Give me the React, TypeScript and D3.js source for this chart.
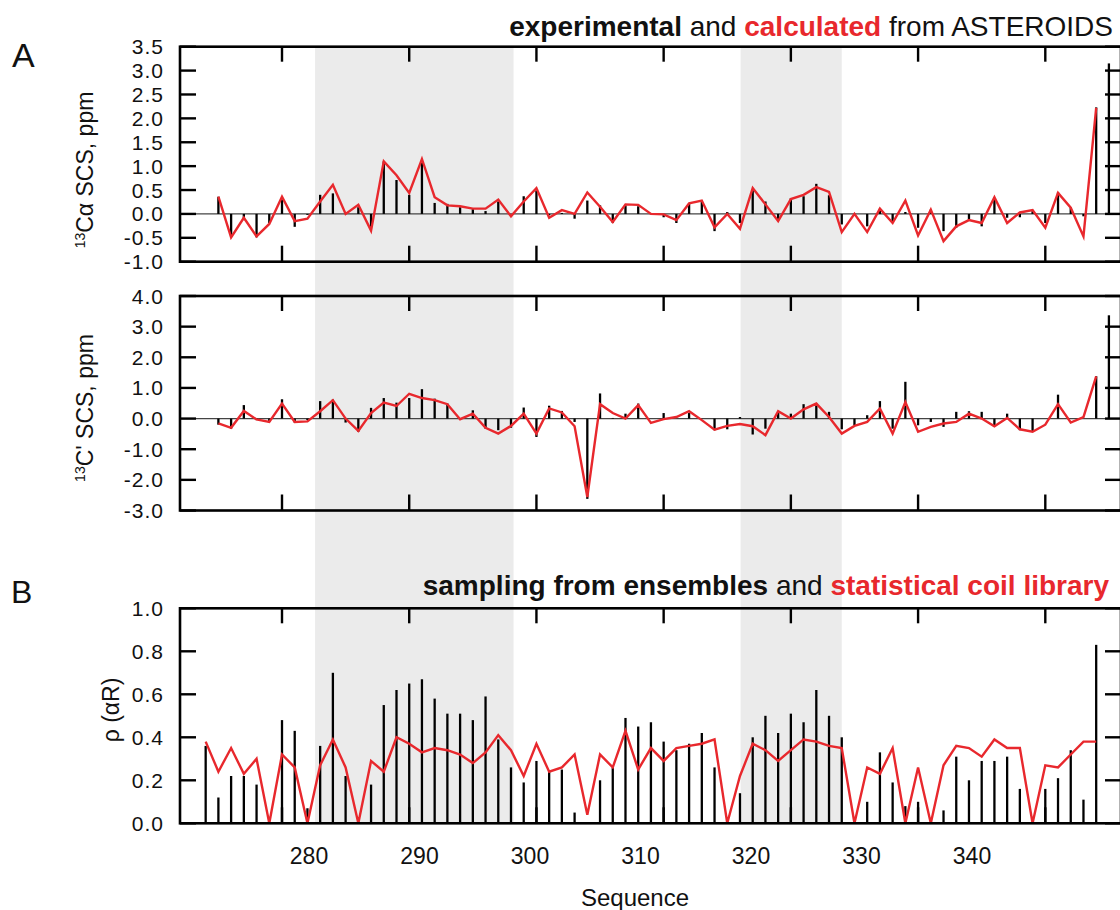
import React from "react";
import * as d3 from "d3";

// Residue numbering
const residuesTop = [275,276,277,278,279,280,281,282,283,284,285,286,287,288,289,290,291,292,293,294,295,296,297,298,299,300,301,302,303,304,305,306,307,308,309,310,311,312,313,314,315,316,317,318,319,320,321,322,323,324,325,326,327,328,329,330,331,332,333,334,335,336,337,338,339,340,341,342,343,344,345];
const residuesBottom = [274,275,276,277,278,279,280,281,282,283,284,285,286,287,288,289,290,291,292,293,294,295,296,297,298,299,300,301,302,303,304,305,306,307,308,309,310,311,312,313,314,315,316,317,318,319,320,321,322,323,324,325,326,327,328,329,330,331,332,333,334,335,336,337,338,339,340,341,342,343,344];

// 13C-alpha SCS (experimental bars 275-345, calculated line 275-344)
const caExp = [0.36,-0.45,-0.13,-0.49,-0.19,0.30,-0.27,-0.02,0.40,0.43,0.03,0.14,-0.27,1.10,0.71,0.40,1.07,0.23,0.21,0.14,0.10,0.06,0.26,0.0,0.37,0.49,-0.03,0.02,-0.10,0.28,0.18,-0.19,0.18,0.16,0.0,-0.07,-0.19,0.22,0.27,-0.36,0.04,-0.19,0.51,0.26,-0.12,0.33,0.37,0.63,0.39,-0.22,0.0,-0.26,0.11,-0.15,0.04,-0.29,0.09,-0.36,-0.29,-0.12,-0.26,0.32,-0.08,-0.07,0.06,-0.19,0.45,0.13,-0.05,2.23,3.15];
const caCalc = [0.36,-0.49,-0.08,-0.47,-0.21,0.36,-0.15,-0.10,0.26,0.61,0.0,0.19,-0.35,1.10,0.81,0.44,1.15,0.35,0.18,0.16,0.11,0.11,0.30,-0.05,0.26,0.54,-0.08,0.08,0.0,0.45,0.15,-0.17,0.20,0.19,0.0,-0.01,-0.13,0.22,0.28,-0.28,0.0,-0.31,0.54,0.20,-0.15,0.31,0.40,0.56,0.46,-0.38,0.0,-0.38,0.11,-0.19,0.28,-0.45,0.09,-0.57,-0.26,-0.13,-0.19,0.35,-0.19,0.03,0.08,-0.29,0.44,0.13,-0.47,2.22];

// 13C' SCS
const coExp = [-0.20,-0.33,0.44,-0.05,-0.11,0.63,-0.13,-0.05,0.57,0.62,-0.13,-0.43,0.35,0.67,0.52,0.67,0.96,0.65,0.49,0.0,0.27,-0.33,-0.38,-0.30,0.36,-0.60,0.42,0.25,-0.11,-2.62,0.82,0.02,0.16,0.49,0.0,0.18,0.0,0.18,0.0,-0.38,-0.35,0.05,-0.52,-0.33,0.24,0.16,0.47,0.49,0.22,-0.35,-0.22,0.11,0.57,-0.33,1.20,-0.22,-0.11,-0.27,0.22,0.24,0.22,-0.22,0.16,-0.38,-0.43,0.0,0.78,0.0,0.0,1.38,3.37];
const coCalc = [-0.16,-0.30,0.25,-0.03,-0.11,0.49,-0.11,-0.09,0.24,0.60,0.0,-0.40,0.18,0.52,0.41,0.81,0.67,0.60,0.47,-0.02,0.16,-0.30,-0.49,-0.24,0.16,-0.49,0.33,0.20,-0.25,-2.56,0.47,0.18,0.0,0.44,-0.14,-0.02,0.05,0.24,-0.05,-0.36,-0.24,-0.18,-0.25,-0.54,0.24,0.0,0.30,0.49,0.05,-0.49,-0.24,-0.11,0.33,-0.49,0.54,-0.43,-0.27,-0.16,-0.11,0.16,0.0,-0.25,0.02,-0.35,-0.43,-0.20,0.47,-0.13,0.05,1.38];

// rho(alphaR): sampling from ensembles (bars) and statistical coil library (line), 274-344
const rhoEns = [0.36,0.12,0.22,0.22,0.18,0.0,0.48,0.43,0.07,0.36,0.70,0.22,0.0,0.18,0.55,0.62,0.65,0.67,0.58,0.51,0.51,0.48,0.59,0.39,0.26,0.19,0.29,0.24,0.25,0.05,0.0,0.20,0.26,0.49,0.45,0.47,0.38,0.34,0.37,0.42,0.26,0.0,0.14,0.40,0.50,0.42,0.51,0.47,0.62,0.50,0.40,0.0,0.10,0.33,0.19,0.08,0.10,0.0,0.06,0.31,0.20,0.29,0.29,0.31,0.16,0.0,0.16,0.21,0.34,0.11,0.83];
const rhoCoil = [0.38,0.24,0.35,0.23,0.30,0.0,0.32,0.26,0.0,0.27,0.39,0.26,0.0,0.29,0.24,0.40,0.37,0.33,0.35,0.34,0.32,0.28,0.33,0.41,0.34,0.22,0.37,0.24,0.26,0.32,0.04,0.32,0.26,0.43,0.25,0.35,0.29,0.35,0.36,0.37,0.39,0.0,0.22,0.37,0.34,0.29,0.34,0.39,0.38,0.36,0.35,0.0,0.26,0.23,0.35,0.0,0.26,0.0,0.27,0.36,0.35,0.31,0.39,0.35,0.35,0.0,0.27,0.26,0.32,0.38,0.38];

// Shaded regions (residue ranges)
const shadedRegions = [[282.6, 298.2], [316.05, 324.0]];

// Axis ticks
const xTicks = [280, 290, 300, 310, 320, 330, 340];
const caTicks = [-1.0, -0.5, 0.0, 0.5, 1.0, 1.5, 2.0, 2.5, 3.0, 3.5];
const coTicks = [-3.0, -2.0, -1.0, 0.0, 1.0, 2.0, 3.0, 4.0];
const rhoTicks = [0.0, 0.2, 0.4, 0.6, 0.8, 1.0];

const FONT = "'Liberation Sans', Arial, Helvetica, sans-serif";
const RED = "#e8282d";

const LEFT = 180;
const RIGHT = 1121;
const x = d3.scaleLinear().domain([280, 340]).range([282, 1045.3]);
const labelX = d3.scaleLinear().domain([280, 340]).range([309, 972]);

type PanelProps = {
  yDomain: [number, number];
  top: number;
  bottom: number;
  ticks: number[];
  barRes: number[];
  bars: number[];
  lineRes: number[];
  line: number[];
  zeroLine: boolean;
};

function Panel({ yDomain, top, bottom, ticks, barRes, bars, lineRes, line, zeroLine }: PanelProps) {
  const y = d3.scaleLinear().domain(yDomain).range([bottom, top]);
  const lineGen = d3
    .line<number>()
    .x((_, i) => x(lineRes[i]))
    .y((d) => y(d));
  const tickLen = 16;
  return (
    <g>
      {zeroLine && (
        <line x1={LEFT} x2={RIGHT} y1={y(0)} y2={y(0)} stroke="#444" strokeWidth={1.2} />
      )}
      {bars.map((v, i) => (
        <line
          key={i}
          x1={x(barRes[i])}
          x2={x(barRes[i])}
          y1={y(0)}
          y2={y(v)}
          stroke="#000"
          strokeWidth={2.3}
        />
      ))}
      <path d={lineGen(line) || ""} fill="none" stroke={RED} strokeWidth={2.4} strokeLinejoin="miter" />
      <rect x={LEFT} y={top} width={RIGHT - LEFT} height={bottom - top} fill="none" stroke="#000" strokeWidth={2.6} />
      {ticks.map((t) => (
        <g key={t}>
          <line x1={LEFT} x2={LEFT + tickLen} y1={y(t)} y2={y(t)} stroke="#000" strokeWidth={2.4} />
          <line x1={RIGHT} x2={RIGHT - tickLen} y1={y(t)} y2={y(t)} stroke="#000" strokeWidth={2.4} />
          <text
            x={164}
            y={y(t)}
            dy="0.36em"
            textAnchor="end"
            fontFamily={FONT}
            fontSize={21}
            letterSpacing={1}
            fill="#111"
          >
            {t.toFixed(1)}
          </text>
        </g>
      ))}
      {xTicks.map((t) => (
        <g key={t}>
          <line x1={x(t)} x2={x(t)} y1={top} y2={top + 15} stroke="#000" strokeWidth={2.4} />
          <line x1={x(t)} x2={x(t)} y1={bottom} y2={bottom - 16} stroke="#000" strokeWidth={2.4} />
        </g>
      ))}
    </g>
  );
}

export default function App() {
  const bandTop = 47;
  const bandBottom = 824;
  return (
    <svg
      width={1120}
      height={910}
      style={{ position: "absolute", left: 0, top: 0, background: "#fff" }}
    >
      <rect x={0} y={0} width={1120} height={910} fill="#fff" />
      {shadedRegions.map(([a, b], i) => (
        <rect key={i} x={x(a)} y={bandTop} width={x(b) - x(a)} height={bandBottom - bandTop} fill="#ebebeb" />
      ))}

      <text x={1113} y={36} textAnchor="end" fontFamily={FONT} fontSize={28} fill="#111">
        <tspan fontWeight="bold">experimental</tspan>
        <tspan> and </tspan>
        <tspan fontWeight="bold" fill={RED}>calculated</tspan>
        <tspan> from ASTEROIDS</tspan>
      </text>
      <text x={1109} y={595} textAnchor="end" fontFamily={FONT} fontSize={28} fill="#111">
        <tspan fontWeight="bold">sampling from ensembles</tspan>
        <tspan> and </tspan>
        <tspan fontWeight="bold" fill={RED}>statistical coil library</tspan>
      </text>

      <text x={12} y={67} fontFamily={FONT} fontSize={34} fill="#111">A</text>
      <text x={11} y={603} fontFamily={FONT} fontSize={32} fill="#111">B</text>

      <Panel
        yDomain={[-1, 3.5]}
        top={46.7}
        bottom={261.7}
        ticks={caTicks}
        barRes={residuesTop}
        bars={caExp}
        lineRes={residuesTop}
        line={caCalc}
        zeroLine
      />
      <Panel
        yDomain={[-3, 4]}
        top={296}
        bottom={510.5}
        ticks={coTicks}
        barRes={residuesTop}
        bars={coExp}
        lineRes={residuesTop}
        line={coCalc}
        zeroLine
      />
      <Panel
        yDomain={[0, 1]}
        top={608.3}
        bottom={823.3}
        ticks={rhoTicks}
        barRes={residuesBottom}
        bars={rhoEns}
        lineRes={residuesBottom}
        line={rhoCoil}
        zeroLine={false}
      />

      <text transform="translate(93,170) rotate(-90)" textAnchor="middle" fontFamily={FONT} fontSize={23} fill="#111">
        <tspan fontSize={14} dy="-8">13</tspan>
        <tspan dy="8">Cα SCS, ppm</tspan>
      </text>
      <text transform="translate(93,408) rotate(-90)" textAnchor="middle" fontFamily={FONT} fontSize={23} fill="#111">
        <tspan fontSize={14} dy="-8">13</tspan>
        <tspan dy="8">C' SCS, ppm</tspan>
      </text>
      <text transform="translate(119,710) rotate(-90)" textAnchor="middle" fontFamily={FONT} fontSize={23} fill="#111">
        ρ (αR)
      </text>

      {xTicks.map((t) => (
        <text key={t} x={labelX(t)} y={864} textAnchor="middle" fontFamily={FONT} fontSize={23} fill="#111">
          {t}
        </text>
      ))}
      <text x={635} y={906} textAnchor="middle" fontFamily={FONT} fontSize={24} fill="#111">
        Sequence
      </text>
    </svg>
  );
}
